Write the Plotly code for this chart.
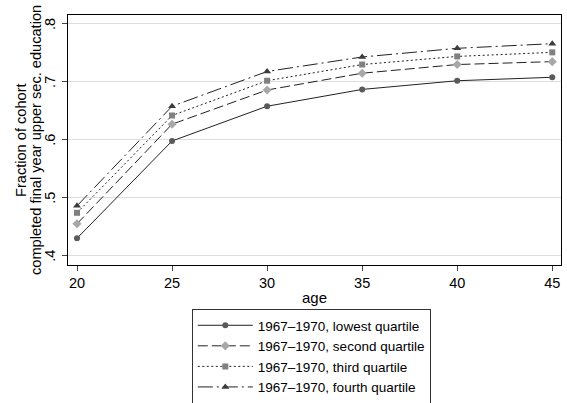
import plotly.graph_objects as go

ages = [20, 25, 30, 35, 40, 45]
lowest = [0.430, 0.598, 0.658, 0.687, 0.702, 0.708]
second = [0.455, 0.627, 0.686, 0.715, 0.730, 0.735]
third = [0.474, 0.642, 0.702, 0.730, 0.744, 0.751]
fourth = [0.486, 0.658, 0.718, 0.743, 0.758, 0.766]
names = ["1967\u20131970, lowest quartile", "1967\u20131970, second quartile",
         "1967\u20131970, third quartile", "1967\u20131970, fourth quartile"]
yticks = [0.4, 0.5, 0.6, 0.7, 0.8]
yticklabels = [".4", ".5", ".6", ".7", ".8"]
xticks = [20, 25, 30, 35, 40, 45]
ytitle_lines = ["Fraction of cohort", "completed final year upper sec. education"]

styles = [
    dict(dash="solid", symbol="circle", mcolor="#5a5a5a", size=6),
    dict(dash="10px,4px", symbol="diamond", mcolor="#a8a8a8", size=7),
    dict(dash="2px,2.5px", symbol="square", mcolor="#808080", size=6),
    dict(dash="15px,4px,2px,4px", symbol="triangle-up", mcolor="#3c3c3c", size=7),
]

FONT = "Liberation Sans, Arial, sans-serif"
W, H = 567, 403
L, T, R, B = 68, 15, 6, 138
pw = W - L - R
ph = H - T - B

fig = go.Figure()
for vals, nm, st in zip([lowest, second, third, fourth], names, styles):
    fig.add_trace(go.Scatter(
        x=ages, y=vals, name=nm, mode="lines+markers",
        line=dict(color="#222222", width=1, dash=st["dash"]),
        marker=dict(symbol=st["symbol"], color=st["mcolor"], size=st["size"]),
    ))

# rotated y-axis title (two tightly spaced lines)
for txt, px in zip(ytitle_lines, [21, 36]):
    fig.add_annotation(
        text=txt, xref="paper", yref="paper",
        x=(px - L) / pw, y=0.5, xanchor="center", yanchor="middle",
        textangle=-90, showarrow=False,
        font=dict(family=FONT, size=14.6, color="black"),
    )

# rotated y tick labels placed at the tick values
for v, lab in zip(yticks, yticklabels):
    fig.add_annotation(
        text=lab, xref="paper", yref="y",
        x=(50 - L) / pw, y=v, xanchor="center", yanchor="middle",
        textangle=-90, showarrow=False,
        font=dict(family=FONT, size=14.5, color="black"),
    )

fig.update_layout(
    width=W, height=H,
    margin=dict(l=L, r=R, t=T, b=B, autoexpand=False),
    paper_bgcolor="white", plot_bgcolor="white",
    font=dict(family=FONT, size=14.5, color="black"),
    showlegend=True,
    legend=dict(
        x=(311.3 - L) / pw, xanchor="center",
        y=-(309 - 265) / ph, yanchor="top",
        bordercolor="#333333", borderwidth=1, bgcolor="white",
        font=dict(size=13.5), itemwidth=55, tracegroupgap=0,
    ),
)
fig.update_xaxes(
    range=[19.526, 45.46], tickvals=xticks, ticks="outside", ticklen=5,
    showline=True, linecolor="black", linewidth=1, mirror=True,
    showgrid=False, zeroline=False, automargin=False,
    tickfont=dict(size=14.5),
    title=dict(text="age", font=dict(size=15), standoff=2),
)
fig.update_yaxes(
    range=[0.3839, 0.8155], tickvals=yticks, showticklabels=False,
    ticks="outside", ticklen=5,
    showline=True, linecolor="black", linewidth=1, mirror=True,
    showgrid=True, gridcolor="#dddddd", gridwidth=1, zeroline=False,
    automargin=False,
)

fig.write_html("out.html", config={"displayModeBar": False},
               post_script="document.body.style.margin='0';")
